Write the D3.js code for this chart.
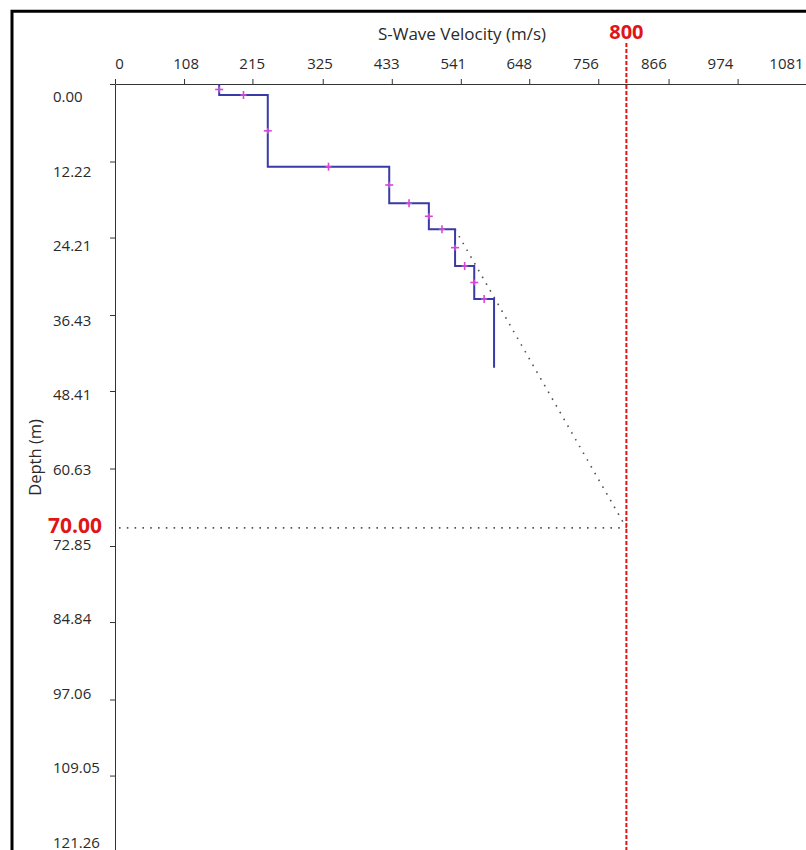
<!DOCTYPE html>
<html>
<head>
<meta charset="utf-8">
<script src="https://cdn.jsdelivr.net/npm/d3@7"></script>
<style>
  html, body { margin: 0; padding: 0; background: #fff; }
  svg { display: block; font-family: "Open Sans", "Noto Sans", sans-serif; }
</style>
</head>
<body>
<svg id="chart" width="806" height="850"></svg>
<script>
// ---- data ----
const xTickLabels = [0, 108, 215, 325, 433, 541, 648, 756, 866, 974, 1081];
const yTickLabels = [0.00, 12.22, 24.21, 36.43, 48.41, 60.63, 72.85, 84.84, 97.06, 109.05, 121.26];

// layered S-wave velocity profile (m/s) and layer boundaries (m)
const layerVelocity = [163, 239, 429, 491, 532, 562, 593];
const layerTop      = [0, 1.73, 13.04, 18.81, 22.91, 28.70, 33.90];
const layerBottom   = [1.73, 13.04, 18.81, 22.91, 28.70, 33.90, 44.73];

// dotted extrapolation line
const trendVelocity = [532, 800];
const trendDepth    = [22.91, 70];

// highlighted reference values
const targetVelocity = 800;
const targetDepth = 70;
const targetVelocityLabel = "800";
const targetDepthLabel = "70.00";

const xTitle = "S-Wave Velocity (m/s)";
const yTitle = "Depth (m)";

// ---- drawing ----
const svg = d3.select("#chart");
const W = 806, H = 850;

const x = d3.scaleLinear().domain([0, 1081]).range([115, 806]);
const y = d3.scaleLinear().domain([0, 121.26]).range([84, 853]);
// tick labels in the original are spread slightly differently from the tick marks
const xLabel = d3.scaleLinear().domain([0, 1081]).range([119, 786]);
const yLabel = d3.scaleLinear().domain([0, 121.26]).range([96, 842]);

svg.append("rect").attr("width", W).attr("height", H).attr("fill", "#fff");

// frame
svg.append("path")
  .attr("d", `M12,${H + 5} V11.3 H${W + 5}`)
  .attr("fill", "none").attr("stroke", "#000").attr("stroke-width", 3);

// top axis
const xAxis = svg.append("g")
  .attr("transform", `translate(0,${y(0)})`)
  .call(d3.axisTop(x).tickValues(xTickLabels).tickFormat(d => String(d))
        .tickSize(5).tickSizeOuter(0));
xAxis.select(".domain").attr("stroke", "#333");
xAxis.selectAll(".tick line").attr("stroke", "#333");
xAxis.selectAll(".tick text")
  .attr("x", d => xLabel(d) - x(d))
  .attr("y", -15).attr("dy", null)
  .attr("fill", "#2a2a2a").style("font-size", "15px")
  .style("font-family", '"Open Sans", sans-serif');

// left axis
const yAxis = svg.append("g")
  .attr("transform", `translate(${x(0)},0)`)
  .call(d3.axisLeft(y).tickValues(yTickLabels).tickFormat(d3.format(".2f"))
        .tickSize(5).tickSizeOuter(0));
yAxis.select(".domain").attr("stroke", "#333");
yAxis.selectAll(".tick line").attr("stroke", "#333");
yAxis.selectAll(".tick text")
  .attr("x", 53 - x(0)).attr("text-anchor", "start")
  .attr("y", d => yLabel(d) - y(d)).attr("dy", "0.35em")
  .attr("fill", "#2a2a2a").style("font-size", "15px")
  .style("font-family", '"Open Sans", sans-serif');

// axis titles
svg.append("text")
  .attr("x", 462).attr("y", 40)
  .attr("text-anchor", "middle").attr("fill", "#2a2a2a")
  .style("font-size", "17px").text(xTitle);
svg.append("text")
  .attr("transform", `translate(41,${(yLabel(48.41) + yLabel(60.63)) / 2 + 26}) rotate(-90)`)
  .attr("text-anchor", "middle").attr("fill", "#2a2a2a")
  .style("font-size", "16.5px").text(yTitle);

// dotted guide lines
const dotted = g => g.attr("fill", "none").attr("stroke", "#555")
  .attr("stroke-width", 1.6).attr("stroke-dasharray", "1.6,6.2");
svg.append("line")
  .attr("x1", x(0) + 4).attr("x2", x(targetVelocity))
  .attr("y1", y(targetDepth)).attr("y2", y(targetDepth))
  .call(dotted);
svg.append("path")
  .datum(trendVelocity.map((v, i) => [v, trendDepth[i]]))
  .attr("d", d3.line().x(d => x(d[0])).y(d => y(d[1])))
  .call(dotted);

// red target velocity line
svg.append("line")
  .attr("x1", x(targetVelocity)).attr("x2", x(targetVelocity))
  .attr("y1", 43).attr("y2", H)
  .attr("stroke", "#e01515").attr("stroke-width", 2)
  .attr("stroke-dasharray", "4,2");

// step profile
const stepPts = [];
layerVelocity.forEach((v, i) => {
  stepPts.push([v, layerTop[i]]);
  stepPts.push([v, layerBottom[i]]);
});
svg.append("path")
  .datum(stepPts)
  .attr("d", d3.line().x(d => x(d[0])).y(d => y(d[1])))
  .attr("fill", "none").attr("stroke", "#3a3aa6").attr("stroke-width", 2);

// markers at segment midpoints
const markers = [];
for (let i = 0; i < layerVelocity.length - 1; i++) {
  markers.push({ px: x(layerVelocity[i]), py: (y(layerTop[i]) + y(layerBottom[i])) / 2, vert: true });
  markers.push({ px: (x(layerVelocity[i]) + x(layerVelocity[i + 1])) / 2, py: y(layerBottom[i]), vert: false });
}
const mk = svg.append("g").attr("stroke", "#d24ad6").attr("stroke-width", 1.6);
markers.forEach(m => {
  if (m.vert) {
    mk.append("line").attr("x1", m.px - 4).attr("x2", m.px + 4).attr("y1", m.py).attr("y2", m.py);
    mk.append("line").attr("x1", m.px).attr("x2", m.px).attr("y1", m.py - 3).attr("y2", m.py + 3);
  } else {
    mk.append("line").attr("x1", m.px).attr("x2", m.px).attr("y1", m.py - 4).attr("y2", m.py + 4);
    mk.append("line").attr("x1", m.px - 3).attr("x2", m.px + 3).attr("y1", m.py).attr("y2", m.py);
  }
});

// red annotations
svg.append("text")
  .attr("x", x(targetVelocity)).attr("y", 39)
  .attr("text-anchor", "middle").attr("fill", "#e01515")
  .style("font-size", "20px").style("font-weight", "bold")
  .text(targetVelocityLabel);
svg.append("text")
  .attr("x", 102).attr("y", y(targetDepth) + 5)
  .attr("text-anchor", "end").attr("fill", "#e01515")
  .style("font-size", "21px").style("font-weight", "bold")
  .text(targetDepthLabel);
</script>
</body>
</html>
